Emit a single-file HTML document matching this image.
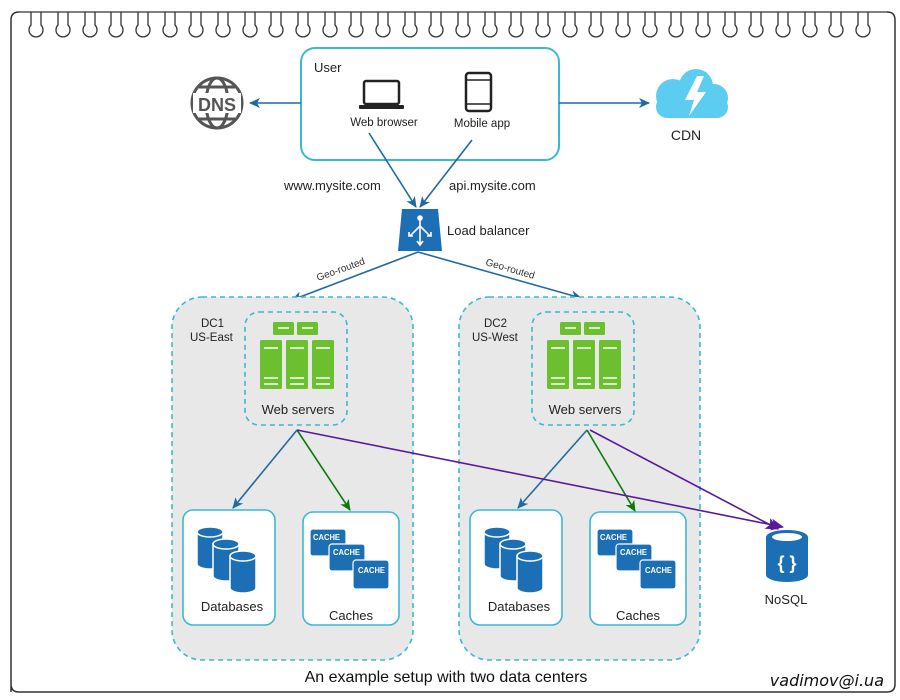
<!DOCTYPE html>
<html><head><meta charset="utf-8"><style>
html,body{margin:0;padding:0;background:#fff;}
svg{display:block;font-family:"Liberation Sans",Arial,sans-serif;}
</style></head><body>
<svg width="900" height="700" viewBox="0 0 900 700" xmlns="http://www.w3.org/2000/svg">
<defs>
<marker id="ab" markerWidth="12" markerHeight="12" refX="10" refY="6" orient="auto" markerUnits="userSpaceOnUse"><path d="M0,1 L11,6 L0,11 L3,6 z" fill="#1f6aa5"/></marker>
<marker id="ag" markerWidth="12" markerHeight="12" refX="10" refY="6" orient="auto" markerUnits="userSpaceOnUse"><path d="M0,1 L11,6 L0,11 L3,6 z" fill="#0b7a0b"/></marker>
<marker id="ap" markerWidth="14" markerHeight="14" refX="12" refY="7" orient="auto" markerUnits="userSpaceOnUse"><path d="M0,1 L13,7 L0,13 L3,7 z" fill="#5a1a9a"/></marker>
<g id="dc">
  <rect x="172" y="297" width="241" height="363" rx="30" fill="#e8e8e8" stroke="#3bb8d4" stroke-width="1.6" stroke-dasharray="5,4"/>
  <rect x="245" y="312" width="102" height="113" rx="14" fill="none" stroke="#3bb8d4" stroke-width="1.6" stroke-dasharray="5,4"/>
  <g fill="#6cbf2e">
    <rect x="273" y="322" width="21" height="13" rx="1.5"/><rect x="297" y="322" width="21" height="13" rx="1.5"/>
    <rect x="260" y="340" width="22" height="49" rx="1.5"/><rect x="286" y="340" width="22" height="49" rx="1.5"/><rect x="312" y="340" width="22" height="49" rx="1.5"/>
  </g>
  <g stroke="#fff" stroke-width="1.4">
    <path d="M278,328h11M302,328h11M264,348h14M290,348h14M316,348h14M264,378h14M290,378h14M316,378h14M264,384h14M290,384h14M316,384h14"/>
  </g>
  <text x="298" y="414" font-size="13" text-anchor="middle" fill="#222">Web servers</text>
  <rect x="183" y="510" width="92" height="115" rx="10" fill="#fff" stroke="#3bb8d4" stroke-width="1.6"/>
  <g fill="#1c6fb5" stroke="#fff" stroke-width="1.5">
    <path d="M197,532 v32 a13,5 0 0 0 26,0 v-32 z"/><ellipse cx="210" cy="532" rx="13" ry="5"/>
    <path d="M213,544 v32 a13,5 0 0 0 26,0 v-32 z"/><ellipse cx="226" cy="544" rx="13" ry="5"/>
    <path d="M230,556 v32 a13,5 0 0 0 26,0 v-32 z"/><ellipse cx="243" cy="556" rx="13" ry="5"/>
  </g>
  <text x="232" y="611" font-size="13" text-anchor="middle" fill="#222">Databases</text>
  <rect x="303" y="512" width="96" height="113" rx="10" fill="#fff" stroke="#3bb8d4" stroke-width="1.6"/>
  <g fill="#1c6fb5" stroke="#fff" stroke-width="1.2">
    <rect x="310" y="529" width="36" height="27" rx="3"/>
    <rect x="329" y="544" width="36" height="27" rx="3"/>
    <rect x="353" y="560" width="36" height="29" rx="3"/>
  </g>
  <g fill="#fff" font-size="8" font-weight="bold">
    <text x="313" y="540" textLength="27" lengthAdjust="spacingAndGlyphs">CACHE</text>
    <text x="333" y="555" textLength="27" lengthAdjust="spacingAndGlyphs">CACHE</text>
    <text x="358" y="573" textLength="27" lengthAdjust="spacingAndGlyphs">CACHE</text>
  </g>
  <text x="351" y="620" font-size="13" text-anchor="middle" fill="#222">Caches</text>
</g>
</defs>

<!-- frame -->
<path d="M11,692 V20 Q11,12 19,12 M887,12 Q895,12 895,20 V684 Q895,692 887,692 H19 Q11,692 11,684" fill="none" stroke="#333" stroke-width="1.5"/>

<!-- DNS -->
<g fill="none" stroke="#555" stroke-width="3">
  <circle cx="217" cy="103" r="25"/>
  <ellipse cx="217" cy="103" rx="11" ry="25"/>
  <path d="M199,87 h36 M199,119 h36"/>
</g>
<rect x="193" y="93" width="48" height="20" fill="#fff"/>
<text x="217" y="111" font-size="18" font-weight="bold" fill="#555" text-anchor="middle">DNS</text>

<!-- user box -->
<rect x="301" y="48" width="258" height="112" rx="14" fill="none" stroke="#3bb8d4" stroke-width="2"/>
<text x="314" y="72" font-size="13" fill="#222">User</text>
<rect x="364" y="81" width="35" height="23" rx="2" fill="none" stroke="#222" stroke-width="2.5"/>
<rect x="359" y="105" width="45" height="4" rx="1" fill="#222"/>
<text x="384" y="126" font-size="11.5" text-anchor="middle" fill="#222">Web browser</text>
<rect x="466" y="73" width="25" height="38" rx="3" fill="none" stroke="#222" stroke-width="2.5"/>
<path d="M467,80h23M467,104h23" stroke="#222" stroke-width="1.5"/>
<text x="482" y="127" font-size="11.5" text-anchor="middle" fill="#222">Mobile app</text>

<!-- CDN cloud -->
<g fill="#5ccdf0">
  <circle cx="673" cy="96" r="17"/><circle cx="696" cy="86" r="17"/><circle cx="714" cy="98" r="14"/>
  <rect x="656" y="96" width="72" height="22" rx="11"/>
</g>
<path d="M697,76 L685,100 L694,100 L689,116 L706,92 L697,92 L704,76 z" fill="#fff"/>
<text x="686" y="140" font-size="14" text-anchor="middle" fill="#222">CDN</text>

<!-- arrows top -->
<g stroke="#1f6aa5" stroke-width="1.6" fill="none">
  <line x1="301" y1="103" x2="250" y2="103" marker-end="url(#ab)"/>
  <line x1="559" y1="103" x2="649" y2="103" marker-end="url(#ab)"/>
  <line x1="369" y1="133" x2="416" y2="207" marker-end="url(#ab)"/>
  <line x1="472" y1="140" x2="420" y2="207" marker-end="url(#ab)"/>
  <line x1="418" y1="252" x2="292" y2="300" marker-end="url(#ab)"/>
  <line x1="418" y1="252" x2="581" y2="298" marker-end="url(#ab)"/>
</g>
<text x="284" y="190" font-size="13" fill="#222">www.mysite.com</text>
<text x="449" y="190" font-size="13" fill="#222">api.mysite.com</text>

<!-- load balancer -->
<path d="M402,209 H438 L442,251 H398 z" fill="#1c6fb5"/>
<g stroke="#fff" stroke-width="1.6" fill="none">
  <circle cx="420" cy="218" r="2" fill="#fff"/>
  <path d="M420,220 V244 M420,226 L410,236 M420,226 L430,236 M417,241 L420,245 L423,241 M409,232 v4 h4 M431,232 v4 h-4"/>
</g>
<text x="447" y="235" font-size="13" fill="#222">Load balancer</text>

<text font-size="10" fill="#333" transform="translate(318,281) rotate(-20)">Geo-routed</text>
<text font-size="10" fill="#333" transform="translate(485,265) rotate(16)">Geo-routed</text>

<!-- DCs -->
<use href="#dc"/>
<use href="#dc" transform="translate(287,0)"/>
<text x="201" y="327" font-size="11.5" fill="#222">DC1</text>
<text x="190" y="341" font-size="11.5" fill="#222">US-East</text>
<text x="484" y="327" font-size="11.5" fill="#222">DC2</text>
<text x="472" y="341" font-size="11.5" fill="#222">US-West</text>

<!-- inner arrows -->
<g stroke-width="1.6" fill="none">
  <line x1="297" y1="430" x2="233" y2="508" stroke="#1f6aa5" marker-end="url(#ab)"/>
  <line x1="297" y1="430" x2="350" y2="510" stroke="#0b7a0b" marker-end="url(#ag)"/>
  <line x1="587" y1="430" x2="518" y2="508" stroke="#1f6aa5" marker-end="url(#ab)"/>
  <line x1="587" y1="430" x2="635" y2="511" stroke="#0b7a0b" marker-end="url(#ag)"/>
  <line x1="297" y1="430" x2="783" y2="527" stroke="#5a1a9a" marker-end="url(#ap)"/>
  <line x1="590" y1="430" x2="778" y2="529" stroke="#5a1a9a" marker-end="url(#ap)"/>
</g>

<!-- NoSQL -->
<path d="M766,537 v38 a21,7 0 0 0 42,0 v-38 z" fill="#1c6fb5"/>
<ellipse cx="787" cy="537" rx="21" ry="7" fill="#1c6fb5"/>
<ellipse cx="787" cy="537" rx="15" ry="4" fill="#fff"/>
<text x="787" y="569" font-size="18" font-weight="bold" fill="#fff" text-anchor="middle">{ }</text>
<text x="786" y="604" font-size="13" text-anchor="middle" fill="#222">NoSQL</text>

<text x="446" y="682" font-size="16" text-anchor="middle" fill="#111">An example setup with two data centers</text>
<text x="884" y="686" font-size="16" font-style="italic" text-anchor="end" fill="#111" font-family="DejaVu Sans, sans-serif">vadimov@i.ua</text>

<!-- loops across top -->
<path fill="none" stroke="#333" stroke-width="1.3" d="
M19,12 H887
M31,12 v13 a7,7 0 1 0 10,0 v-13
M58,12 v13 a7,7 0 1 0 10,0 v-13
M85,12 v13 a7,7 0 1 0 10,0 v-13
M111,12 v13 a7,7 0 1 0 10,0 v-13
M138,12 v13 a7,7 0 1 0 10,0 v-13
M165,12 v13 a7,7 0 1 0 10,0 v-13
M191,12 v13 a7,7 0 1 0 10,0 v-13
M218,12 v13 a7,7 0 1 0 10,0 v-13
M245,12 v13 a7,7 0 1 0 10,0 v-13
M271,12 v13 a7,7 0 1 0 10,0 v-13
M298,12 v13 a7,7 0 1 0 10,0 v-13
M325,12 v13 a7,7 0 1 0 10,0 v-13
M351,12 v13 a7,7 0 1 0 10,0 v-13
M378,12 v13 a7,7 0 1 0 10,0 v-13
M405,12 v13 a7,7 0 1 0 10,0 v-13
M431,12 v13 a7,7 0 1 0 10,0 v-13
M458,12 v13 a7,7 0 1 0 10,0 v-13
M485,12 v13 a7,7 0 1 0 10,0 v-13
M511,12 v13 a7,7 0 1 0 10,0 v-13
M538,12 v13 a7,7 0 1 0 10,0 v-13
M565,12 v13 a7,7 0 1 0 10,0 v-13
M591,12 v13 a7,7 0 1 0 10,0 v-13
M618,12 v13 a7,7 0 1 0 10,0 v-13
M645,12 v13 a7,7 0 1 0 10,0 v-13
M671,12 v13 a7,7 0 1 0 10,0 v-13
M698,12 v13 a7,7 0 1 0 10,0 v-13
M725,12 v13 a7,7 0 1 0 10,0 v-13
M751,12 v13 a7,7 0 1 0 10,0 v-13
M778,12 v13 a7,7 0 1 0 10,0 v-13
M805,12 v13 a7,7 0 1 0 10,0 v-13
M831,12 v13 a7,7 0 1 0 10,0 v-13
M858,12 v13 a7,7 0 1 0 10,0 v-13
"/>
</svg>
</body></html>
